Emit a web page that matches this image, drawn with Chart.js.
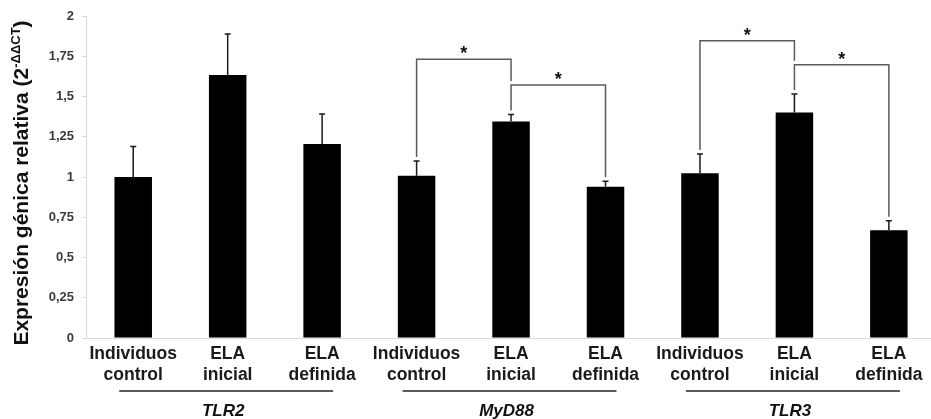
<!DOCTYPE html>
<html>
<head>
<meta charset="utf-8">
<script src="https://cdn.jsdelivr.net/npm/chart.js@4.4.1/dist/chart.umd.min.js"></script>
<style>
html,body{margin:0;padding:0;background:#fff;overflow:hidden;}
canvas{display:block;}
</style>
</head>
<body>
<canvas id="c" width="931" height="419"></canvas>
<script>
// ---- data ----
const categories = [
  ['Individuos','control'], ['ELA','inicial'], ['ELA','definida'],
  ['Individuos','control'], ['ELA','inicial'], ['ELA','definida'],
  ['Individuos','control'], ['ELA','inicial'], ['ELA','definida']
];
const groupNames = ['TLR2', 'MyD88', 'TLR3'];
const groupMembers = [[0, 2], [3, 5], [6, 8]];
const means  = [1.00, 1.633, 1.205, 1.008, 1.344, 0.94, 1.023, 1.40, 0.67];
const errors = [0.19, 0.255, 0.187, 0.092, 0.044, 0.033, 0.12, 0.115, 0.058];
const yTickValues = [0, 0.25, 0.5, 0.75, 1, 1.25, 1.5, 1.75, 2];
const yTickLabels = ['0', '0,25', '0,5', '0,75', '1', '1,25', '1,5', '1,75', '2'];
// significance brackets: [from bar, to bar, bracket level]
const brackets = [[3, 4, 1.732], [4, 5, 1.572], [6, 7, 1.846], [7, 8, 1.697]];
const yTitleMain = 'Expresión génica relativa (2';
const yTitleSup = '-ΔΔCT';
const yTitleEnd = ')';

const FONT = "'Liberation Sans', Arial, sans-serif";

const annot = {
  id: 'annot',
  afterDatasetsDraw(chart) {
    const ctx = chart.ctx;
    const xs = chart.scales.x, ys = chart.scales.y;
    ctx.save();
    // error bars
    ctx.strokeStyle = '#1a1a1a';
    ctx.lineWidth = 1.5;
    means.forEach((m, i) => {
      const x = xs.getPixelForValue(i);
      const y0 = ys.getPixelForValue(m);
      const y1 = ys.getPixelForValue(m + errors[i]);
      ctx.beginPath();
      ctx.moveTo(x, y0); ctx.lineTo(x, y1);
      ctx.moveTo(x - 3, y1); ctx.lineTo(x + 3, y1);
      ctx.stroke();
    });
    // brackets
    const gap = 4;
    const legBottom = (bar, level) => {
      let lower = null;
      brackets.forEach(b => {
        if ((b[0] === bar || b[1] === bar) && b[2] < level) {
          if (lower === null || b[2] > lower) lower = b[2];
        }
      });
      const v = lower !== null ? lower : means[bar] + errors[bar];
      return ys.getPixelForValue(v) - gap;
    };
    ctx.strokeStyle = '#5a5a5a';
    ctx.lineWidth = 1.5;
    brackets.forEach(b => {
      const xa = xs.getPixelForValue(b[0]);
      const xb = xs.getPixelForValue(b[1]);
      const yl = ys.getPixelForValue(b[2]);
      ctx.beginPath();
      ctx.moveTo(xa, legBottom(b[0], b[2]));
      ctx.lineTo(xa, yl);
      ctx.lineTo(xb, yl);
      ctx.lineTo(xb, legBottom(b[1], b[2]));
      ctx.stroke();
      ctx.fillStyle = '#111';
      ctx.font = 'bold 18px ' + FONT;
      ctx.textAlign = 'center';
      ctx.textBaseline = 'middle';
      ctx.fillText('*', (xa + xb) / 2, yl - 5);
    });
    // group lines and names
    groupMembers.forEach((g, k) => {
      const xa = xs.getPixelForValue(g[0]) - 14;
      const xb = xs.getPixelForValue(g[1]) + 11;
      ctx.strokeStyle = '#5a5a5a';
      ctx.lineWidth = 2;
      ctx.beginPath();
      ctx.moveTo(xa, 391); ctx.lineTo(xb, 391);
      ctx.stroke();
      ctx.fillStyle = '#111';
      ctx.font = 'italic bold 17px ' + FONT;
      ctx.textAlign = 'center';
      ctx.textBaseline = 'middle';
      ctx.fillText(groupNames[k], (xa + xb) / 2 - 3, 411);
    });
    // y title with superscript
    const size = 21, supSize = 13;
    ctx.fillStyle = '#111';
    ctx.textBaseline = 'alphabetic';
    ctx.textAlign = 'left';
    ctx.font = 'bold ' + size + 'px ' + FONT;
    const w1 = ctx.measureText(yTitleMain).width;
    const w3 = ctx.measureText(yTitleEnd).width;
    ctx.font = 'bold ' + supSize + 'px ' + FONT;
    const w2 = ctx.measureText(yTitleSup).width;
    const total = w1 + w2 + w3;
    ctx.translate(28, (chart.chartArea.top + chart.chartArea.bottom) / 2 + 6);
    ctx.rotate(-Math.PI / 2);
    let x0 = -total / 2;
    ctx.font = 'bold ' + size + 'px ' + FONT;
    ctx.fillText(yTitleMain, x0, 0);
    ctx.font = 'bold ' + supSize + 'px ' + FONT;
    ctx.fillText(yTitleSup, x0 + w1, -8);
    ctx.font = 'bold ' + size + 'px ' + FONT;
    ctx.fillText(yTitleEnd, x0 + w1 + w2, 0);
    ctx.restore();
  }
};

new Chart(document.getElementById('c'), {
  type: 'bar',
  data: {
    datasets: [{
      data: means.map((v, i) => ({ x: i, y: v })),
      backgroundColor: '#000',
      borderColor: '#000',
      borderWidth: 0,
      barPercentage: 0.397,
      categoryPercentage: 1
    }]
  },
  options: {
    responsive: false,
    animation: false,
    devicePixelRatio: 1,
    layout: { padding: { top: 16, right: 0, left: 0, bottom: 0 } },
    plugins: { legend: { display: false }, tooltip: { enabled: false } },
    scales: {
      x: {
        type: 'linear',
        offset: false,
        min: -0.5,
        max: 8.446,
        afterBuildTicks: s => { s.ticks = categories.map((_, i) => ({ value: i })); },
        afterFit: s => { s.height = 81; },
        grid: { display: false, drawTicks: false, offset: false },
        border: { display: true, color: '#d9d9d9', width: 1 },
        ticks: {
          autoSkip: false,
          maxRotation: 0,
          padding: 6,
          color: '#1a1a1a',
          font: { family: FONT, size: 17.5, weight: 'bold', lineHeight: 1.18 },
          callback: v => categories[v]
        }
      },
      y: {
        min: 0,
        max: 2,
        afterBuildTicks: s => { s.ticks = yTickValues.map(v => ({ value: v })); },
        afterFit: s => { s.width = 86; },
        grid: { display: true, drawOnChartArea: false, drawTicks: true, tickLength: 4, color: '#d9d9d9' },
        border: { display: true, color: '#d9d9d9', width: 1 },
        ticks: {
          padding: 8,
          color: '#3a3a3a',
          font: { family: FONT, size: 13, weight: 'bold' },
          callback: v => yTickLabels[yTickValues.indexOf(v)]
        }
      }
    }
  },
  plugins: [annot]
});
</script>
</body>
</html>
